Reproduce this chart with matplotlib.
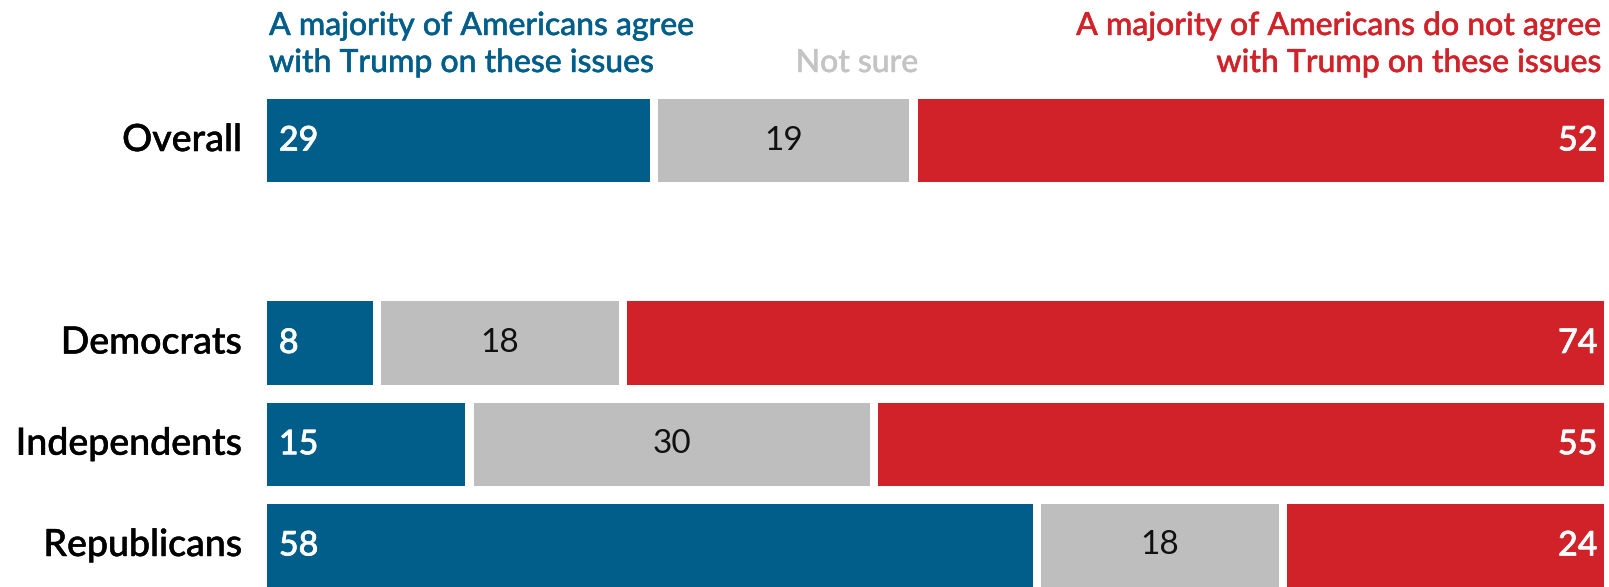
import matplotlib
matplotlib.use("Agg")
import matplotlib.pyplot as plt
import matplotlib.patheffects as pe

categories = ["Overall", "Democrats", "Independents", "Republicans"]
row_pos = [0, 2, 3, 4]
agree = [29, 8, 15, 58]
not_sure = [19, 18, 30, 18]
disagree = [52, 74, 55, 24]

BLUE = "#015e8a"
GRAY = "#bebebe"
RED = "#d22229"
FONT = "Lato"
WT = "medium"


def thick(color, lw):
    return [pe.withStroke(linewidth=lw, foreground=color)]


W, H = 1609, 587
fig = plt.figure(figsize=(W / 100, H / 100), dpi=100)
ax = fig.add_axes([267 / W, 0, 1337 / W, 488 / H])
gap = 0.65
bh = 0.82
for i, y in enumerate(row_pos):
    a, n, d = agree[i], not_sure[i], disagree[i]
    ax.barh(y, a, left=0, height=bh, color=BLUE)
    ax.barh(y, n, left=a + gap, height=bh, color=GRAY)
    ax.barh(y, d, left=a + n + 2 * gap, height=bh, color=RED)
    ax.text(0.9, y, str(a), color="white", ha="left", va="center",
            fontsize=24.5, family=FONT, fontweight=WT, path_effects=thick("white", 0.45))
    ax.text(a + gap + n / 2, y, str(n), color="#111111", ha="center", va="center",
            fontsize=24, family=FONT)
    ax.text(a + n + d + 2 * gap - 0.5, y, str(d), color="white", ha="right", va="center",
            fontsize=24.5, family=FONT, fontweight=WT, path_effects=thick("white", 0.45))
    ax.text(-1.9, y, categories[i], color="black", ha="right", va="center",
            fontsize=27, family=FONT, fontweight=WT, path_effects=thick("black", 0.35))

ax.set_xlim(0, 100 + 2 * gap)
ax.set_ylim(4.41, -0.41)
ax.axis("off")

HS = 23
hdr = [
    (269, 35, "A majority of Americans agree", BLUE, "left"),
    (269, 72, "with Trump on these issues", BLUE, "left"),
    (857, 72, "Not sure", "#c4c4c4", "center"),
    (1602, 35, "A majority of Americans do not agree", RED, "right"),
    (1602, 72, "with Trump on these issues", RED, "right"),
]
for x, yb, s, c, ha in hdr:
    fig.text(x / W, 1 - yb / H, s, color=c, ha=ha, va="baseline", fontsize=HS,
             family=FONT, fontweight=WT, path_effects=thick(c, 0.3))

fig.savefig("out.png", dpi=100, facecolor="white")
